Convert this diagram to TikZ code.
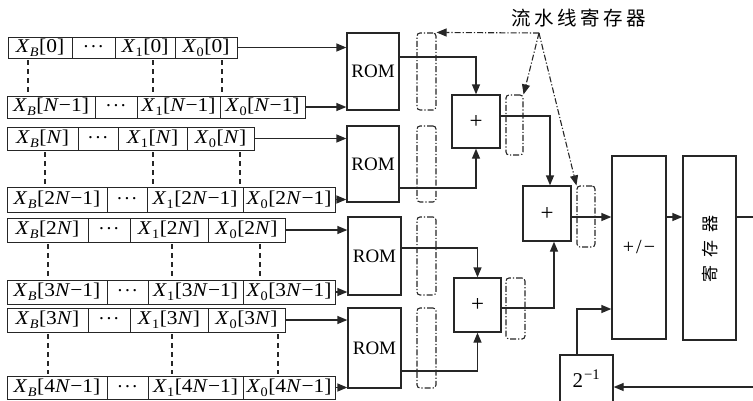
\documentclass[tikz,border=0pt]{standalone}
\usepackage{graphicx}
\usepackage{fontspec}
\setmainfont{Liberation Serif}
\newfontfamily\cjk{Noto Sans CJK SC}
\usetikzlibrary{arrows.meta,calc}
\newcommand\bxn[7]{\node[#1, minimum width={#5pt-#3pt}, minimum height={#6pt-#4pt}] (#2) at ({(#3+#5)/2},{(#4+#6)/2}) {#7};}
\newcommand\xsb[2]{\scalebox{1.1}[1]{\textit{X}\kern0.3pt\raisebox{-4pt}{\fontsize{13}{13}\selectfont #1}\kern0.5pt[#2]}}
\newcommand\nn{\textit{N}}
\newcommand\rowcells[9]{%
 \bxn{cell}{#1a}{#4}{#2}{#5}{#3}{\xsb{\textit{B}}{#9}}
 \bxn{cell}{#1b}{#5}{#2}{#6}{#3}{\raisebox{3pt}{.\kern2.5pt.\kern2.5pt.}}
 \bxn{cell}{#1c}{#6}{#2}{#7}{#3}{\xsb{1}{#9}}
 \bxn{cell}{#1d}{#7}{#2}{#8}{#3}{\xsb{0}{#9}}}
\begin{document}
\begin{tikzpicture}[x=1pt,y=-1pt,
  cell/.style={draw=black!85, line width=1pt, inner sep=0pt, font=\fontsize{19.5}{19.5}\selectfont},
  blk/.style={draw=black!85, line width=1.3pt, inner sep=0pt},
  preg/.style={draw=black!85, line width=1.1pt, rounded corners=3pt, dash pattern=on 6pt off 2pt on 1.2pt off 2pt, inner sep=0pt},
  arr/.style={draw=black!85, line width=1.3pt, -{Triangle[length=10pt,width=8pt]}},
  ptr/.style={draw=black!85, line width=1.1pt, dash pattern=on 6pt off 2pt on 1.2pt off 2pt, -{Triangle[length=10pt,width=8pt]}},
  vdash/.style={draw=black!85, line width=1.4pt, dash pattern=on 5pt off 4pt}]
\useasboundingbox (0,0) rectangle (753,400);
\clip (0,0) rectangle (753,400);
% input rows
\rowcells{ra}{37}{58}{8}{72}{115}{175}{237}{0}
\rowcells{rb}{96}{118}{7}{95}{137}{220}{305}{\nn−1}
\rowcells{rc}{127}{150}{7}{78}{118}{187}{254}{\nn}
\rowcells{rd}{187}{212}{7}{107}{147}{243}{335}{2\nn−1}
\rowcells{re}{218}{242}{7}{88}{130}{208}{285}{2\nn}
\rowcells{rf}{280}{304}{7}{107}{148}{243}{335}{3\nn−1}
\rowcells{rg}{308}{332}{7}{88}{130}{208}{285}{3\nn}
\rowcells{rh}{376}{399}{7}{107}{148}{243}{335}{4\nn−1}
% dashed guides
\foreach \x in {28,153,222} \draw[vdash] (\x,60) -- (\x,94);
\foreach \x in {45,153,240} \draw[vdash] (\x,152) -- (\x,185);
\foreach \x in {48,172,260} \draw[vdash] (\x,244) -- (\x,278);
\foreach \x in {48,172,278} \draw[vdash] (\x,334) -- (\x,374);
% ROMs
\bxn{blk,font=\fontsize{19}{19}\selectfont}{rom1}{347}{33}{399}{110}{ROM}
\bxn{blk,font=\fontsize{19}{19}\selectfont}{rom2}{347}{126}{399}{202}{ROM}
\bxn{blk,font=\fontsize{19}{19}\selectfont}{rom3}{348}{217}{401}{295}{ROM}
\bxn{blk,font=\fontsize{19}{19}\selectfont}{rom4}{348}{308}{401}{388}{ROM}
% pipeline registers
\bxn{preg}{g1}{417}{33}{436}{110}{}
\bxn{preg}{g2}{417}{126}{436}{202}{}
\bxn{preg}{g3}{417}{217}{436}{295}{}
\bxn{preg}{g4}{417}{308}{436}{388}{}
\bxn{preg}{g5}{506}{95}{523}{155}{}
\bxn{preg}{g6}{506}{278}{525}{339}{}
\bxn{preg}{g7}{577}{186}{595}{247}{}
% adders
\bxn{blk,font=\fontsize{23}{23}\selectfont}{a1}{452}{95}{500}{148}{+}
\bxn{blk,font=\fontsize{23}{23}\selectfont}{a2}{454}{278}{501}{332}{+}
\bxn{blk,font=\fontsize{23}{23}\selectfont}{a3}{523}{186}{571}{241}{+}
\bxn{blk,font=\fontsize{20}{20}\selectfont}{pm}{612}{156}{666}{339}{+\kern2pt/\kern2pt−}
\bxn{blk}{rg}{683}{156}{736}{340}{}
\node[rotate=90, font=\cjk\fontsize{17}{17}\selectfont, inner sep=0pt] (rgt) at (710,249) {寄\hspace{8pt}存\hspace{8pt}器};
\bxn{blk,font=\fontsize{21}{21}\selectfont}{two}{560}{355}{613}{402}{2\textsuperscript{\kern1pt−1}}
% title
\node[font=\cjk\fontsize{19.5}{19.5}\selectfont, inner sep=0pt] (title) at (579,18) {流\hspace{3.5pt}水\hspace{3.5pt}线\hspace{3.5pt}寄\hspace{3.5pt}存\hspace{3.5pt}器};
% helper coordinates
\coordinate (h57) at (0,57);
\coordinate (h188) at (0,188);
\coordinate (h248) at (0,248);
\coordinate (h371) at (0,371);
\coordinate (h116) at (0,116);
\coordinate (h308) at (0,308);
\coordinate (h217) at (0,217);
\coordinate (h309) at (0,309);
\coordinate (h387) at (0,387);
\coordinate (v550) at (550,0);
\coordinate (v554) at (554,0);
\coordinate (v577) at (577,0);
\coordinate (offR) at (770,217);
\coordinate (apex) at (539,33);
% row to ROM arrows
\draw[arr] (rad.east) -- (rad.east -| rom1.west);
\draw[arr] (rbd.east) -- (rbd.east -| rom1.west);
\draw[arr] (rcd.east) -- (rcd.east -| rom2.west);
\draw[arr] (rdd.east) -- (rdd.east -| rom2.west);
\draw[arr] (red.east) -- (red.east -| rom3.west);
\draw[arr] (rfd.east) -- (rfd.east -| rom3.west);
\draw[arr] (rgd.east) -- (rgd.east -| rom4.west);
\draw[arr] (rhd.east) -- (rhd.east -| rom4.west);
% ROM to adders
\draw[arr] (rom1.east |- h57) -| (a1.north);
\draw[arr] (rom2.east |- h188) -| (a1.south);
\draw[arr] (rom3.east |- h248) -| (a2.north);
\draw[arr] (rom4.east |- h371) -| (a2.south);
\draw[arr] (a1.east |- h116) -| (a3.north -| v550);
\draw[arr] (a2.east |- h308) -| (a3.south -| v554);
\draw[arr] (a3.east |- h217) -- (pm.west |- h217);
\draw[arr] (pm.east |- h217) -- (rg.west |- h217);
\draw[arr] (rg.east |- h217) -- (offR) |- (two.east |- h387);
\draw[arr] (two.north -| v577) |- (pm.west |- h309);
% pointers from title
\draw[ptr] (apex) -- (g1.north east);
\draw[ptr] (apex) -- (g5.north east);
\draw[ptr] (apex) -- (g7.north west);
\end{tikzpicture}
\end{document}
